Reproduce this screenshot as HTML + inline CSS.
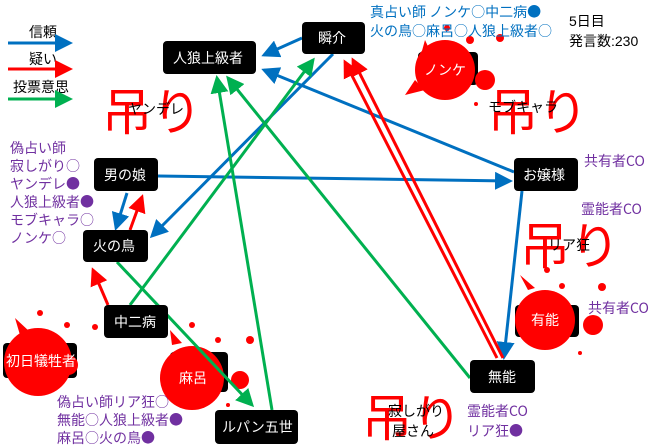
<!DOCTYPE html>
<html><head><meta charset="utf-8"><style>
html,body{margin:0;padding:0;background:#fff;}
svg{display:block;font-family:"Liberation Sans","Noto Sans CJK JP",sans-serif;}
.b{fill:#000;}
.w{fill:#fff;font-size:14px;}
.p{fill:#7030a0;font-size:14px;font-family:"Noto Sans CJK JP",sans-serif;}
.bl{fill:#0070c0;font-size:14px;font-family:"Noto Sans CJK JP",sans-serif;}
.k{fill:#000;font-size:14px;}
.h{fill:#ff0000;font-size:50px;font-family:"Noto Sans CJK JP",sans-serif;}
</style></head><body>
<svg width="660" height="447" viewBox="0 0 660 447" xmlns="http://www.w3.org/2000/svg">
<defs>
<marker id="mb" markerWidth="6" markerHeight="6" refX="5" refY="3" orient="auto" markerUnits="strokeWidth"><path d="M0,0 L6,3 L0,6 z" fill="#0070c0"/></marker>
<marker id="mr" markerWidth="6" markerHeight="6" refX="5" refY="3" orient="auto" markerUnits="strokeWidth"><path d="M0,0 L6,3 L0,6 z" fill="#ff0000"/></marker>
<marker id="mg" markerWidth="6" markerHeight="6" refX="5" refY="3" orient="auto" markerUnits="strokeWidth"><path d="M0,0 L6,3 L0,6 z" fill="#00b050"/></marker>
</defs>

<text x="29" y="37" class="k">信頼</text>
<line x1="8" y1="43" x2="70" y2="43" stroke="#0070c0" stroke-width="3" marker-end="url(#mb)"/>
<text x="29" y="64" class="k">疑い</text>
<line x1="8" y1="69" x2="70" y2="69" stroke="#ff0000" stroke-width="3" marker-end="url(#mr)"/>
<text x="13" y="92" class="k">投票意思</text>
<line x1="8" y1="99" x2="70" y2="99" stroke="#00b050" stroke-width="3" marker-end="url(#mg)"/>

<text x="102" y="130" class="h">吊り</text>
<text x="128" y="114" class="k" font-size="11">ヤンデレ</text>
<text x="488" y="130" class="h">吊り</text>
<text x="488" y="112" class="k" font-size="11">モブキャラ</text>
<text x="520" y="264" class="h">吊り</text>
<text x="548" y="250" class="k" font-size="11">リア狂</text>
<text x="362" y="436" class="h">吊り</text>
<text x="388" y="416" class="k" font-size="12">寂しがり</text>
<text x="392" y="436" class="k" font-size="12">屋さん</text>

<rect x="418" y="52" width="60" height="33" rx="4" class="b"/>
<rect x="515" y="305" width="64" height="32" rx="4" class="b"/>
<rect x="3" y="343" width="74" height="35" rx="4" class="b"/>
<rect x="170" y="352" width="58" height="40" rx="4" class="b"/>

<g fill="#ff0000">
<circle cx="445" cy="70" r="30"/><circle cx="485" cy="80" r="10"/><circle cx="470" cy="40" r="4"/><circle cx="500" cy="38" r="4"/><circle cx="447" cy="28" r="3"/><circle cx="476" cy="104" r="2"/>
<path d="M425,40 L432,55 L420,58 Z M415,80 L405,95 L425,90Z"/>
<circle cx="545" cy="320" r="30"/><circle cx="593" cy="325" r="10"/><circle cx="562" cy="286" r="3"/><circle cx="602" cy="287" r="4"/><circle cx="580" cy="353" r="2"/><circle cx="547" cy="270" r="3"/>
<path d="M528,290 L520,275 L535,288Z"/>
<circle cx="38" cy="362" r="34"/><circle cx="68" cy="365" r="10"/><circle cx="40" cy="313" r="3"/><circle cx="67" cy="325" r="3"/><circle cx="95" cy="327" r="3"/>
<path d="M20,335 L15,318 L30,332Z"/>
<circle cx="192" cy="378" r="32"/><circle cx="240" cy="380" r="9"/><circle cx="192" cy="325" r="3"/><circle cx="218" cy="340" r="3"/><circle cx="250" cy="340" r="4"/><circle cx="228" cy="405" r="2"/>
<path d="M172,345 L170,330 L182,343Z"/>
</g>
<text x="424" y="75" class="w">ノンケ</text>
<text x="531" y="325" class="w">有能</text>
<text x="6" y="366" class="w">初日犠牲者</text>
<text x="179" y="383" class="w">麻呂</text>

<g stroke-width="3" fill="none">
<line x1="302" y1="38" x2="264" y2="55" stroke="#0070c0" marker-end="url(#mb)"/>
<line x1="333" y1="54" x2="152" y2="236" stroke="#0070c0" marker-end="url(#mb)"/>
<line x1="514" y1="172" x2="264" y2="70" stroke="#0070c0" marker-end="url(#mb)"/>
<line x1="158" y1="176" x2="510" y2="181" stroke="#0070c0" marker-end="url(#mb)"/>
<line x1="127" y1="193" x2="116" y2="228" stroke="#0070c0" marker-end="url(#mb)"/>
<line x1="522" y1="191" x2="504" y2="357" stroke="#0070c0" marker-end="url(#mb)"/>
<line x1="130" y1="230" x2="142" y2="197" stroke="#ff0000" marker-end="url(#mr)"/>
<line x1="108" y1="305" x2="93" y2="270" stroke="#ff0000" marker-end="url(#mr)"/>
<line x1="497" y1="358" x2="345" y2="62" stroke="#ff0000" marker-end="url(#mr)"/>
<line x1="503" y1="358" x2="353" y2="60" stroke="#ff0000" marker-end="url(#mr)"/>
<line x1="130" y1="305" x2="313" y2="60" stroke="#00b050" marker-end="url(#mg)"/>
<line x1="117" y1="262" x2="252" y2="405" stroke="#00b050" marker-end="url(#mg)"/>
<line x1="272" y1="410" x2="217" y2="78" stroke="#00b050" marker-end="url(#mg)"/>
<line x1="470" y1="378" x2="228" y2="78" stroke="#00b050" marker-end="url(#mg)"/>
</g>

<rect x="163" y="41" width="93" height="33" rx="4" class="b"/><text x="173" y="63" class="w">人狼上級者</text>
<rect x="302" y="22" width="63" height="32" rx="4" class="b"/><text x="318" y="43" class="w">瞬介</text>
<rect x="94" y="158" width="64" height="33" rx="4" class="b"/><text x="104" y="180" class="w">男の娘</text>
<rect x="83" y="230" width="65" height="32" rx="4" class="b"/><text x="93" y="251" class="w">火の鳥</text>
<rect x="514" y="158" width="64" height="33" rx="4" class="b"/><text x="523" y="180" class="w">お嬢様</text>
<rect x="104" y="305" width="64" height="33" rx="4" class="b"/><text x="114" y="327" class="w">中二病</text>
<rect x="470" y="360" width="65" height="33" rx="4" class="b"/><text x="488" y="382" class="w">無能</text>
<rect x="215" y="410" width="83" height="34" rx="4" class="b"/><text x="222" y="432" class="w">ルパン五世</text>

<text x="370" y="17" class="bl">真占い師 ノンケ○中二病●</text>
<text x="370" y="36" class="bl">火の鳥○麻呂○人狼上級者○</text>
<text x="569" y="26" class="k">5日目</text>
<text x="569" y="46" class="k">発言数:230</text>
<g class="p">
<text x="10" y="153">偽占い師</text>
<text x="10" y="171">寂しがり○</text>
<text x="10" y="189">ヤンデレ●</text>
<text x="10" y="207">人狼上級者●</text>
<text x="10" y="225">モブキャラ○</text>
<text x="10" y="243">ノンケ○</text>
<text x="584" y="166">共有者CO</text>
<text x="581" y="214">霊能者CO</text>
<text x="588" y="313">共有者CO</text>
<text x="57" y="407">偽占い師リア狂○</text>
<text x="57" y="425">無能○人狼上級者●</text>
<text x="57" y="443">麻呂○火の鳥●</text>
<text x="467" y="416">霊能者CO</text>
<text x="467" y="436">リア狂●</text>
</g>
</svg>
</body></html>
